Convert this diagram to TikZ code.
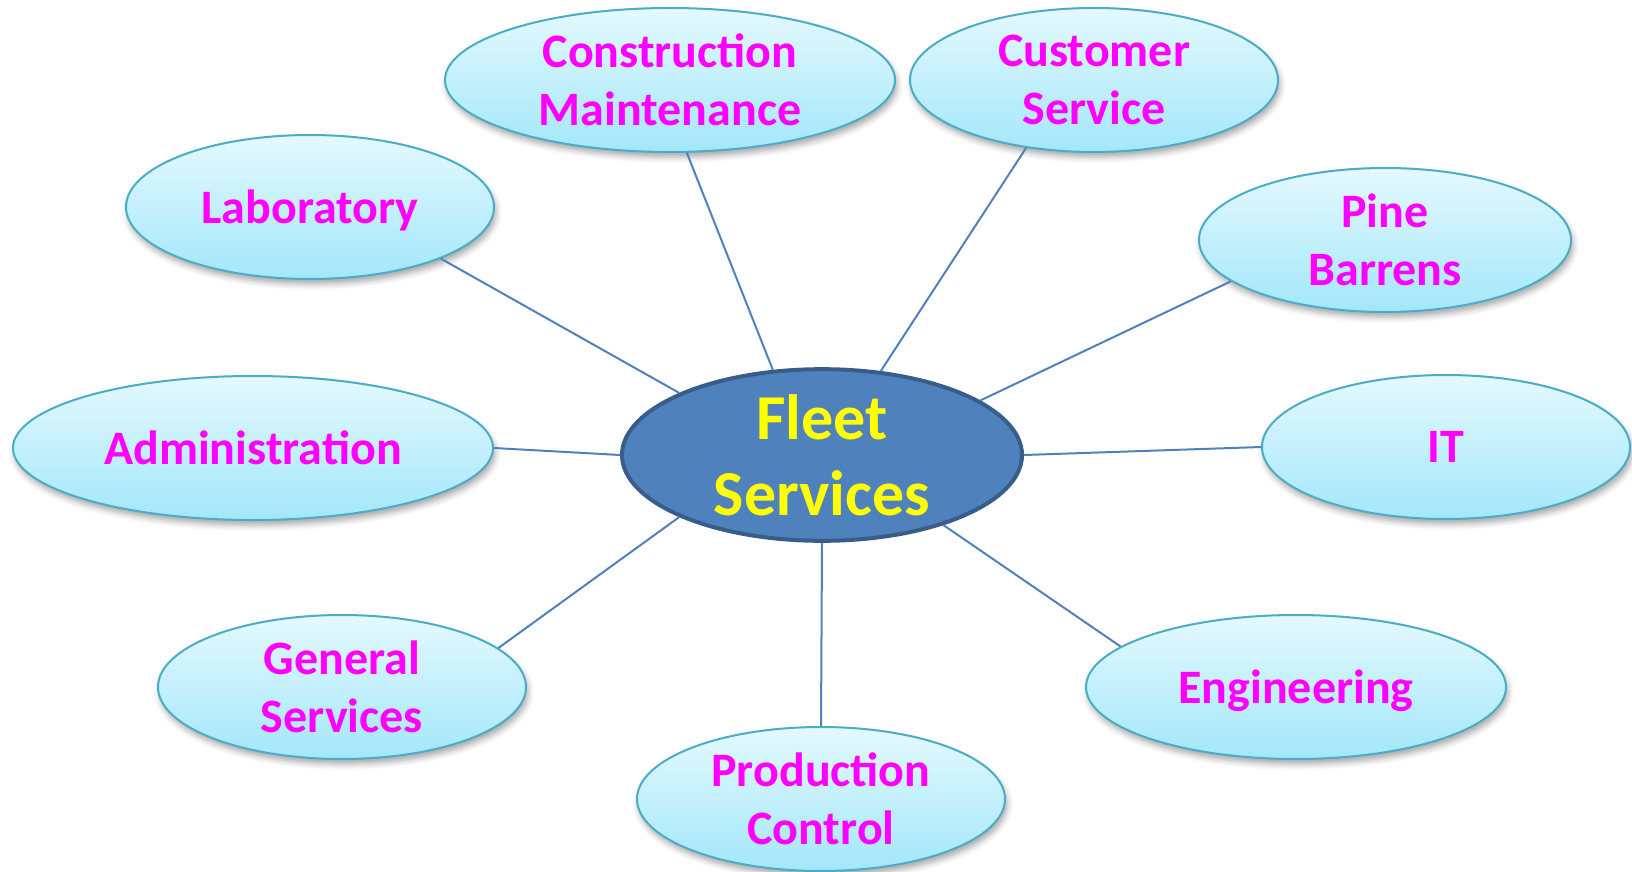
\documentclass[tikz,border=0pt]{standalone}
\usepackage{fontspec}
\setmainfont{Carlito}
\usetikzlibrary{shapes.geometric,shadows.blur}
\definecolor{deptline}{HTML}{4BACC6}
\definecolor{depttop}{HTML}{E4F9FE}
\definecolor{deptbot}{HTML}{A3E7FA}
\definecolor{hubfill}{HTML}{4F81BD}
\definecolor{hubline}{HTML}{385D8A}
\definecolor{labelpink}{HTML}{FF00FF}
\definecolor{labelyellow}{HTML}{FFFF00}
\tikzstyle{dept}=[ellipse, draw=deptline, line width=1pt, top color=depttop, bottom color=deptbot,
    minimum width=184pt, minimum height=72pt, inner sep=0pt, align=center, text=labelpink,
    text depth=0pt, font=\fontsize{24}{29}\selectfont\bfseries,
    blur shadow={shadow xshift=1pt, shadow yshift=-2.5pt, shadow blur radius=3pt, shadow opacity=35}]
\tikzstyle{hub}=[ellipse, draw=hubline, line width=2pt, fill=hubfill,
    minimum width=200pt, minimum height=80pt, inner sep=0pt, align=center, text=labelyellow,
    font=\fontsize{32}{38}\selectfont\bfseries]
\tikzstyle{spoke}=[draw=hubfill, line width=1pt]

\begin{document}
\begin{tikzpicture}[x=0.5pt, y=-0.5pt]
\useasboundingbox (0,0) rectangle (1632,872);
% Hub
    \node[hub] (fleet) at (822,455) {Fleet\\Services};
% Departments
    \node[dept, minimum width=225pt] (constr) at (670,80) {Construction\\Maintenance};
    \node[dept] (cust) at (1094,80) {Customer\\Service};
    \node[dept] (lab) at (310,207) {Laboratory};
    \node[dept, minimum width=186pt] (pine) at (1385,240) {Pine\\Barrens};
    \node[dept, minimum width=240pt] (admin) at (253,448) {Administration};
    \node[dept] (it) at (1446,447) {IT};
    \node[dept] (general) at (342,687) {General\\Services};
    \node[dept, minimum width=210pt] (eng) at (1296,687) {Engineering};
    \node[dept] (prod) at (821,799) {Production\\Control};
% Spokes
    \draw[spoke] (fleet.120.3) -- (constr.-77.5);
    \draw[spoke] (fleet.55.2) -- (cust.-135);
    \draw[spoke] (fleet.north west) -- (lab.south east);
    \draw[spoke] (fleet.19.6) -- (pine.-165.5);
    \draw[spoke] (fleet.west) -- (admin.east);
    \draw[spoke] (fleet.east) -- (it.west);
    \draw[spoke] (fleet.south west) -- (general.14.7);
    \draw[spoke] (fleet.-30.4) -- (eng.167.3);
    \draw[spoke] (fleet.south) -- (prod.north);
\end{tikzpicture}
\end{document}
